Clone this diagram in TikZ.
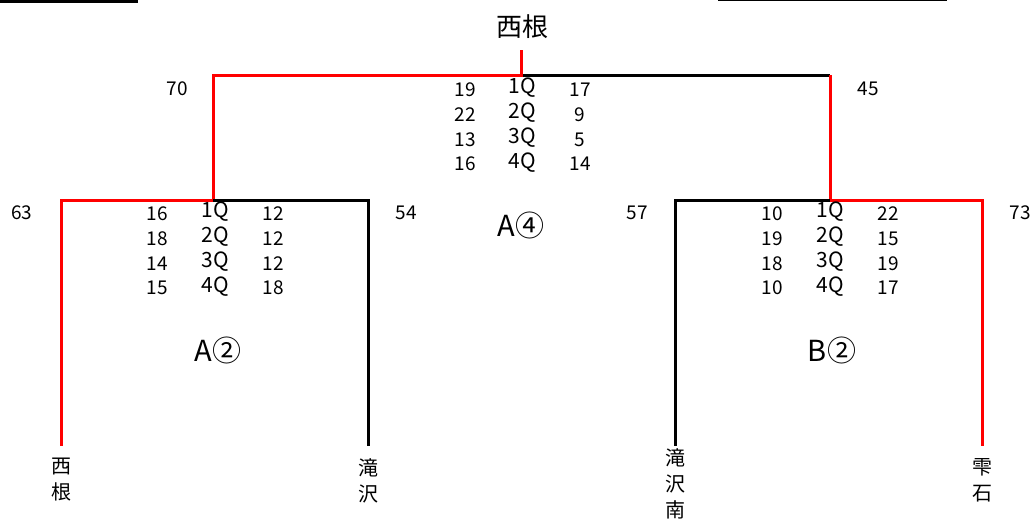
\documentclass[tikz,border=0pt]{standalone}
\usepackage{fontspec}
\setmainfont{Noto Sans CJK JP}
\begin{document}
\begin{tikzpicture}[x=1pt,y=-1pt,
  win/.style={draw=red,line width=3pt},
  lose/.style={draw=black,line width=3pt},
  num/.style={inner sep=0pt,font=\fontsize{19}{19}\selectfont},
  qlab/.style={inner sep=0pt,font=\fontsize{21}{21}\selectfont},
  team/.style={inner sep=0pt,align=center,font=\fontsize{20}{26}\selectfont},
  pool/.style={inner sep=0pt,font=\fontsize{29}{29}\selectfont}]
\useasboundingbox (0,0) rectangle (1035,522);
% top decorative lines
\coordinate (tl1) at (0,1.5); \coordinate (tl2) at (138,1.5);
\coordinate (tr1) at (718,0.5); \coordinate (tr2) at (947,0.5);
\draw[line width=3pt] (tl1) -- (tl2);
\draw[line width=1pt] (tr1) -- (tr2);
% root
\node[inner sep=0pt,font=\fontsize{26}{26}\selectfont] (root) at (522,27) {西根};
\coordinate (r0) at (521,50);
\coordinate (r1) at (521,75);
\coordinate (rl) at (213,75);
\coordinate (rr) at (830,75);
\coordinate (la) at (213,200);
\coordinate (ra) at (830,200);
% left sub-bracket
\coordinate (l1) at (61,200); \coordinate (l2) at (368,200);
\coordinate (l1b) at (61,446); \coordinate (l2b) at (368,446);
% right sub-bracket
\coordinate (r3) at (675,200); \coordinate (r4) at (982,200);
\coordinate (r3b) at (675,446); \coordinate (r4b) at (982,446);
% lines
\draw[lose] (r1) -- (rr);
\draw[win] (r0) -- (r1) -- (rl) -- (la);
\draw[win] (rr) -- (ra);
\draw[lose] (la) -- (l2) -- (l2b);
\draw[win] (la) -- (l1) -- (l1b);
\draw[lose] (ra) -- (r3) -- (r3b);
\draw[win] (ra) -- (r4) -- (r4b);
% totals
\node[num] (t70) at (177,89) {70};
\node[num] (t45) at (868,89) {45};
\node[num] (t63) at (22,213) {63};
\node[num] (t54) at (406,213) {54};
\node[num] (t57) at (637,213) {57};
\node[num] (t73) at (1020,213) {73};
% top quarter scores
\foreach \a/\q/\b [count=\i from 0] in {19/1Q/17,22/2Q/9,13/3Q/5,16/4Q/14}{
  \node[num] (tA\i) at (465,90+24.7*\i) {\a};
  \node[qlab] (tQ\i) at (522,88+24.7*\i) {\q};
  \node[num] (tB\i) at (580,90+24.7*\i) {\b};
}
\foreach \a/\q/\b [count=\i from 0] in {16/1Q/12,18/2Q/12,14/3Q/12,15/4Q/18}{
  \node[num] (lA\i) at (157,214+24.7*\i) {\a};
  \node[qlab] (lQ\i) at (215,212+24.7*\i) {\q};
  \node[num] (lB\i) at (273,214+24.7*\i) {\b};
}
\foreach \a/\q/\b [count=\i from 0] in {10/1Q/22,19/2Q/15,18/3Q/19,10/4Q/17}{
  \node[num] (rA\i) at (772,214+24.7*\i) {\a};
  \node[qlab] (rQ\i) at (830,212+24.7*\i) {\q};
  \node[num] (rB\i) at (888,214+24.7*\i) {\b};
}
% pool labels
\node[pool] (pA4) at (521,225) {A④};
\node[pool] (pA2) at (218,350) {A②};
\node[pool] (pB2) at (832,350) {B②};
% team labels
\node[team,anchor=north] (n1) at (61,458) {西\\根};
\node[team,anchor=north] (n2) at (368,458) {滝\\沢};
\node[team,anchor=north] (n3) at (675,448) {滝\\沢\\南};
\node[team,anchor=north] (n4) at (982,458) {雫\\石};
\end{tikzpicture}
\end{document}
